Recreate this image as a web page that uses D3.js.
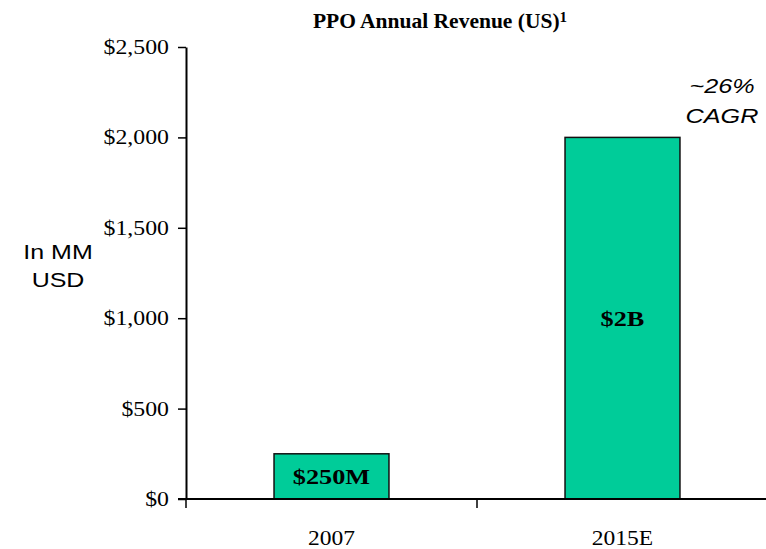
<!DOCTYPE html>
<html>
<head>
<meta charset="utf-8">
<script src="https://cdn.jsdelivr.net/npm/d3@7"></script>
<style>
  body { margin: 0; background: #fff; }
  svg { display: block; }
</style>
</head>
<body>
<svg id="chart"></svg>
<script>
// PPO revenue bar chart

const years = ["2007", "2015E"];
const revenue = [250, 2000];
const barLabels = ["$250M", "$2B"];
const yTicks = [0, 500, 1000, 1500, 2000, 2500];

const width = 766, height = 549;
const margin = { top: 47, right: -2, bottom: 50, left: 186 };

const serif = "'Liberation Serif', 'Times New Roman', serif";
const sans = "'Liberation Sans', Arial, sans-serif";

const svg = d3.select("#chart")
    .attr("width", width)
    .attr("height", height);

const x = d3.scaleBand()
    .domain(years)
    .range([margin.left, width - margin.right])
    .padding(0);

const y = d3.scaleLinear()
    .domain([0, 2500])
    .range([height - margin.bottom, margin.top]);

const y0 = y(0);
const barW = x.bandwidth() * 0.395;

// text is a bit wider in the original, so stretch it horizontally
function label(px, py, sx, txt) {
    return svg.append("text")
        .attr("transform", `translate(${px},${py}) scale(${sx},1)`)
        .text(txt);
}

// bars
svg.selectAll("rect.bar")
    .data(revenue)
    .join("rect")
    .attr("class", "bar")
    .attr("x", (d, i) => x(years[i]) + x.bandwidth() / 2 - barW / 2)
    .attr("y", d => y(d))
    .attr("width", barW)
    .attr("height", d => y0 - y(d))
    .attr("fill", "#00cc99")
    .attr("stroke", "#111")
    .attr("stroke-width", 1.5);

// labels inside bars
revenue.forEach((d, i) => {
    label(x(years[i]) + x.bandwidth() / 2, (y(d) + y0) / 2, 1.25, barLabels[i])
        .attr("dy", "0.35em")
        .attr("text-anchor", "middle")
        .style("font-family", serif)
        .style("font-weight", "bold")
        .style("font-size", "21px");
});

// y axis
const yAxis = svg.append("g")
    .attr("transform", `translate(${margin.left},0)`)
    .call(d3.axisLeft(y)
        .tickValues(yTicks)
        .tickFormat(d => "$" + d3.format(",")(d))
        .tickSize(8)
        .tickSizeOuter(0)
        .tickPadding(9));
yAxis.select(".domain").attr("stroke", "#000").attr("stroke-width", 2);
yAxis.selectAll(".tick line").attr("stroke", "#000").attr("stroke-width", 1.5);
yAxis.selectAll(".tick text")
    .attr("x", 0)
    .attr("transform", "translate(-17,0) scale(1.19,1)")
    .style("font-family", serif)
    .style("font-size", "20px")
    .attr("fill", "#000");

// x axis: line plus ticks at category boundaries
svg.append("line")
    .attr("x1", margin.left - 8)
    .attr("x2", width)
    .attr("y1", y0)
    .attr("y2", y0)
    .attr("stroke", "#000")
    .attr("stroke-width", 2);

const bounds = d3.range(years.length + 1).map(i => x.range()[0] + i * x.step());
svg.selectAll("line.xtick")
    .data(bounds)
    .join("line")
    .attr("class", "xtick")
    .attr("x1", d => d)
    .attr("x2", d => d)
    .attr("y1", y0)
    .attr("y2", y0 + 9)
    .attr("stroke", "#000")
    .attr("stroke-width", 1.5);

years.forEach(d => {
    label(x(d) + x.bandwidth() / 2, 545, 1.12, d)
        .attr("text-anchor", "middle")
        .style("font-family", serif)
        .style("font-size", "21px");
});

// title
const title = svg.append("text")
    .attr("x", 440)
    .attr("y", 28)
    .attr("text-anchor", "middle")
    .style("font-family", serif)
    .style("font-weight", "bold")
    .style("font-size", "21.5px")
    .text("PPO Annual Revenue (US)");
title.append("tspan")
    .attr("dy", "-0.4em")
    .style("font-size", "15px")
    .text("1");

// y axis unit label
["In MM", "USD"].forEach((t, i) => {
    label(58, 259 + i * 28, 1.19, t)
        .attr("text-anchor", "middle")
        .style("font-family", sans)
        .style("font-size", "21px");
});

// growth annotation
["~26%", "CAGR"].forEach((t, i) => {
    label(722, 93 + i * 30, 1.2, t)
        .attr("text-anchor", "middle")
        .style("font-family", sans)
        .style("font-style", "italic")
        .style("font-size", "21px");
});
</script>
</body>
</html>
